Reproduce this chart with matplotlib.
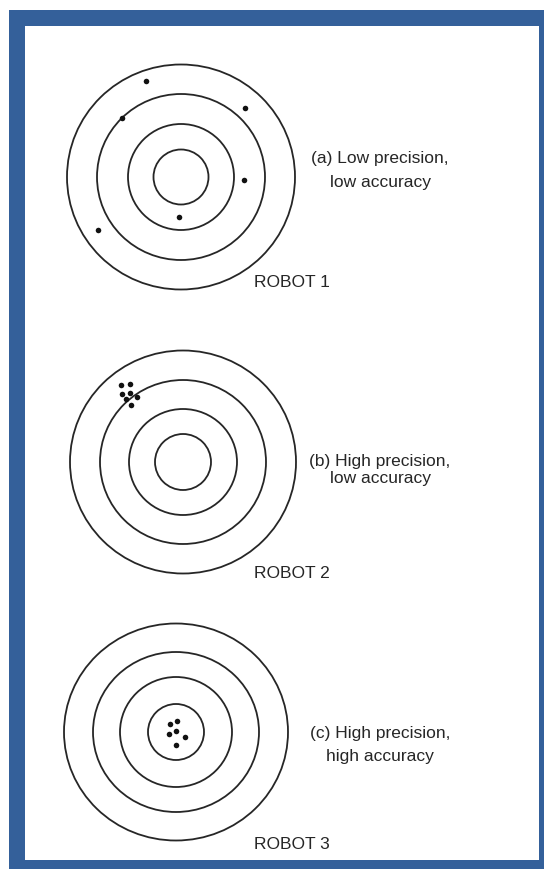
import matplotlib
matplotlib.use("Agg")
from matplotlib import pyplot as plt
from matplotlib.patches import Rectangle, Ellipse

# pixel coordinates (y grows downwards)
centers = [(181, 178), (183, 463), (176, 733)]
ring_rx = [[114, 84, 53, 27.5], [113, 83, 54, 28], [112, 83, 56, 28]]
ring_ry = [[112.5, 83, 53, 27.5], [111.5, 82, 53, 28], [108.5, 80, 55, 28]]

shots_x = [
    [146, 245, 122, 244, 179, 98],
    [121, 130, 122, 130, 137, 131, 126],
    [170, 177, 169, 176, 185, 176],
]
shots_y = [
    [82, 109, 119, 181, 218, 231],
    [386, 385, 395, 394, 398, 406, 400],
    [725, 722, 735, 732, 738, 746],
]

captions = [
    ["(a) Low precision,", "low accuracy"],
    ["(b) High precision,", "low accuracy"],
    ["(c) High precision,", "high accuracy"],
]
caption_y = [[159, 182], [462, 479], [734, 757]]
caption_x = 380

robot_labels = ["ROBOT 1", "ROBOT 2", "ROBOT 3"]
robot_y = [283, 574, 845]
robot_x = 254

ink = "#262626"
blue = "#34609a"

plt.rcParams["font.family"] = ["Liberation Sans", "DejaVu Sans"]

fig = plt.figure(figsize=(5.44, 8.70), dpi=100)
ax = fig.add_axes([0, 0, 1, 1])
ax.set_xlim(0, 544)
ax.set_ylim(870, 0)
ax.axis("off")

# frame
ax.add_patch(Rectangle((9, 11), 540, 865, facecolor=blue, edgecolor="none"))
ax.add_patch(Rectangle((25, 27), 514, 834, facecolor="white", edgecolor="none"))

for i in range(3):
    cx, cy = centers[i]
    for rx, ry in zip(ring_rx[i], ring_ry[i]):
        ax.add_patch(Ellipse((cx, cy), 2 * rx, 2 * ry, fill=False,
                             edgecolor=ink, linewidth=1.3))
    ax.plot(shots_x[i], shots_y[i], "o", color="#111111", markersize=4,
            markeredgewidth=0)
    for line, y in zip(captions[i], caption_y[i]):
        ax.text(caption_x, y, line, ha="center", va="center",
                fontsize=12.5, color=ink)
    ax.text(robot_x, robot_y[i], robot_labels[i], ha="left", va="center",
            fontsize=12.5, color=ink)

fig.savefig("out.png", dpi=100)
